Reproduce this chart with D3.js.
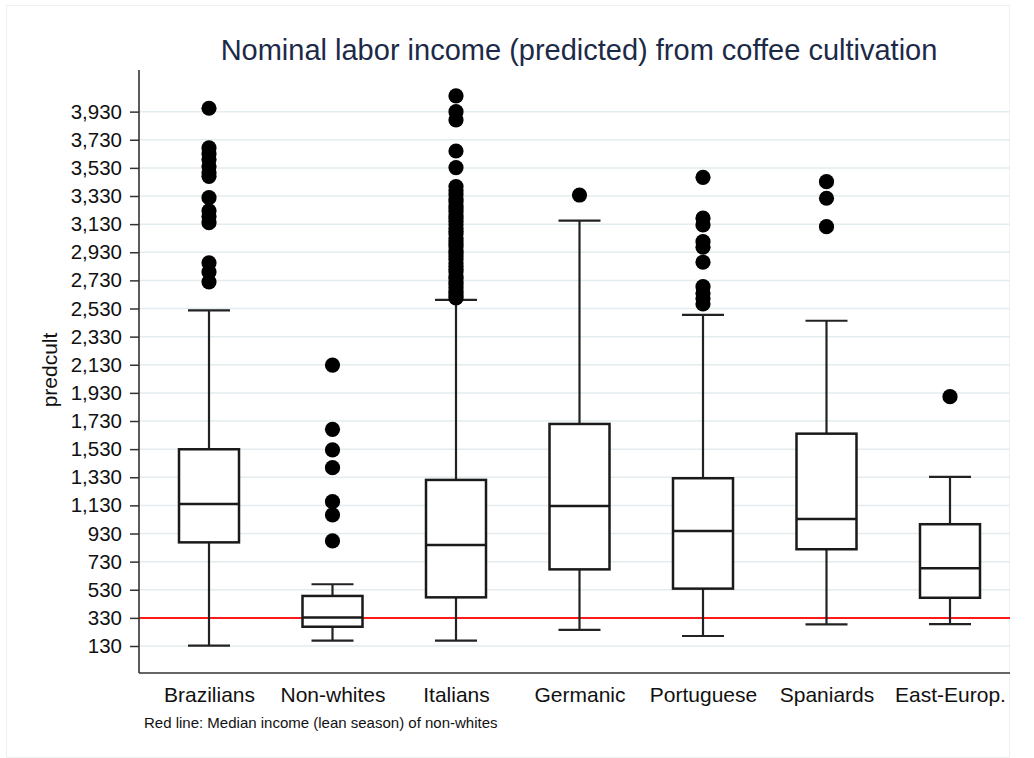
<!DOCTYPE html>
<html>
<head>
<meta charset="utf-8">
<script src="https://cdn.jsdelivr.net/npm/d3@7"></script>
<style>
  html, body { margin: 0; padding: 0; background: #fff; }
  svg { display: block; font-family: "Liberation Sans", Arial, sans-serif; }
</style>
</head>
<body>
<svg id="chart" width="1034" height="758"></svg>
<script>
// Groups and box-plot summaries of predicted nominal labor income
const categories  = ["Brazilians", "Non-whites", "Italians", "Germanic", "Portuguese", "Spaniards", "East-Europ."];
const whiskerLow  = [132, 168, 168, 244, 201, 284, 286];
const q1          = [867, 267, 476, 675, 538, 818, 473];
const median      = [1140, 333, 848, 1126, 948, 1033, 683];
const q3          = [1529, 486, 1311, 1709, 1323, 1640, 996];
const whiskerHigh = [2517, 569, 2591, 3155, 2484, 2443, 1332];

// Outside values, one list per group (same order as categories)
const outliers = [
  [3954, 3672, 3630, 3590, 3540, 3495, 3470, 3318, 3225, 3185, 3140, 2855, 2790, 2720],
  [2128, 1671, 1524, 1398, 1156, 1062, 877],
  [4042, 3930, 3871, 3650, 3532, 3397, 3370, 3340, 3310, 3290, 3260, 3240, 3220, 3190,
   3170, 3150, 3125, 3100, 3080, 3060, 3030, 3010, 2990, 2970, 2940, 2925, 2900, 2880,
   2850, 2830, 2810, 2790, 2760, 2745, 2720, 2700, 2680, 2655, 2640, 2620, 2605],
  [3337],
  [3463, 3172, 3124, 3005, 2966, 2859, 2685, 2638, 2602, 2562],
  [3432, 3314, 3112],
  [1903]
];

// Reference level: median lean-season income of non-whites
const referenceLine = 330;

// Y axis tick values
const yTicks = [130, 330, 530, 730, 930, 1130, 1330, 1530, 1730, 1930, 2130, 2330,
                2530, 2730, 2930, 3130, 3330, 3530, 3730, 3930];

const svg = d3.select("#chart");

const plot = { left: 139, right: 1010, top: 70, bottom: 673 };

const y = d3.scaleLinear().domain([-62, 4226]).range([plot.bottom, plot.top]);
const x = d3.scalePoint().domain(categories).range([209, 950]);

const boxW = 60, capW = 42;
const FONT = "Liberation Sans, Arial, sans-serif";

// outer frame
svg.append("rect")
  .attr("x", 6.5).attr("y", 5.5).attr("width", 1003).attr("height", 752)
  .attr("fill", "#fff").attr("stroke", "#eef1f2").attr("stroke-width", 1);

// grid lines
svg.append("g")
  .selectAll("line").data(yTicks).join("line")
  .attr("x1", plot.left).attr("x2", plot.right)
  .attr("y1", d => y(d)).attr("y2", d => y(d))
  .attr("stroke", "#e3ecee").attr("stroke-width", 1.5);

// reference line
svg.append("line")
  .attr("x1", plot.left).attr("x2", plot.right)
  .attr("y1", y(referenceLine)).attr("y2", y(referenceLine))
  .attr("stroke", "#ff1a1a").attr("stroke-width", 2);

// y axis
const yAxis = d3.axisLeft(y).tickValues(yTicks).tickSize(9).tickPadding(8)
  .tickFormat(d3.format(","));
const gy = svg.append("g").attr("transform", `translate(${plot.left},0)`).call(yAxis);
gy.select(".domain").remove();
gy.selectAll(".tick line").attr("stroke", "#333").attr("stroke-width", 1.5);
gy.selectAll(".tick text").attr("font-size", 20.5).attr("fill", "#111")
  .attr("font-family", FONT);
svg.append("line")
  .attr("x1", plot.left).attr("x2", plot.left)
  .attr("y1", plot.top).attr("y2", plot.bottom)
  .attr("stroke", "#333").attr("stroke-width", 1.6);

// x axis
const xAxis = d3.axisBottom(x).tickSize(0).tickPadding(14);
const gx = svg.append("g").attr("transform", `translate(0,${plot.bottom})`).call(xAxis);
gx.select(".domain").remove();
gx.selectAll(".tick text").attr("font-size", 21).attr("fill", "#111")
  .attr("font-family", FONT);
svg.append("line")
  .attr("x1", plot.left).attr("x2", plot.right)
  .attr("y1", plot.bottom).attr("y2", plot.bottom)
  .attr("stroke", "#333").attr("stroke-width", 1.6);

// boxes
const groups = svg.append("g").selectAll("g").data(categories).join("g");

groups.append("line") // upper whisker
  .attr("x1", d => x(d)).attr("x2", d => x(d))
  .attr("y1", (d, i) => y(q3[i])).attr("y2", (d, i) => y(whiskerHigh[i]))
  .attr("stroke", "#222").attr("stroke-width", 2.2);
groups.append("line") // lower whisker
  .attr("x1", d => x(d)).attr("x2", d => x(d))
  .attr("y1", (d, i) => y(q1[i])).attr("y2", (d, i) => y(whiskerLow[i]))
  .attr("stroke", "#222").attr("stroke-width", 2.2);
groups.append("line") // upper cap
  .attr("x1", d => x(d) - capW / 2).attr("x2", d => x(d) + capW / 2)
  .attr("y1", (d, i) => y(whiskerHigh[i])).attr("y2", (d, i) => y(whiskerHigh[i]))
  .attr("stroke", "#222").attr("stroke-width", 2.2);
groups.append("line") // lower cap
  .attr("x1", d => x(d) - capW / 2).attr("x2", d => x(d) + capW / 2)
  .attr("y1", (d, i) => y(whiskerLow[i])).attr("y2", (d, i) => y(whiskerLow[i]))
  .attr("stroke", "#222").attr("stroke-width", 2.2);
groups.append("rect")
  .attr("x", d => x(d) - boxW / 2).attr("width", boxW)
  .attr("y", (d, i) => y(q3[i])).attr("height", (d, i) => y(q1[i]) - y(q3[i]))
  .attr("fill", "#fff").attr("stroke", "#1a1a1a").attr("stroke-width", 2.5);
groups.append("line") // median
  .attr("x1", d => x(d) - boxW / 2).attr("x2", d => x(d) + boxW / 2)
  .attr("y1", (d, i) => y(median[i])).attr("y2", (d, i) => y(median[i]))
  .attr("stroke", "#1a1a1a").attr("stroke-width", 2.5);

// outside values
groups.each(function (d, i) {
  d3.select(this).selectAll("circle").data(outliers[i]).join("circle")
    .attr("cx", x(d)).attr("cy", v => y(v)).attr("r", 7.6).attr("fill", "#000");
});

// title
svg.append("text")
  .attr("x", 579).attr("y", 60).attr("text-anchor", "middle")
  .attr("font-size", 29).attr("fill", "#1c2a48")
  .text("Nominal labor income (predicted) from coffee cultivation");

// y axis title
svg.append("text")
  .attr("transform", "translate(57,370) rotate(-90)")
  .attr("text-anchor", "middle").attr("font-size", 21).attr("fill", "#111")
  .text("predcult");

// note
svg.append("text")
  .attr("x", 144).attr("y", 728).attr("font-size", 15).attr("fill", "#111")
  .text("Red line: Median income (lean season) of non-whites");
</script>
</body>
</html>
